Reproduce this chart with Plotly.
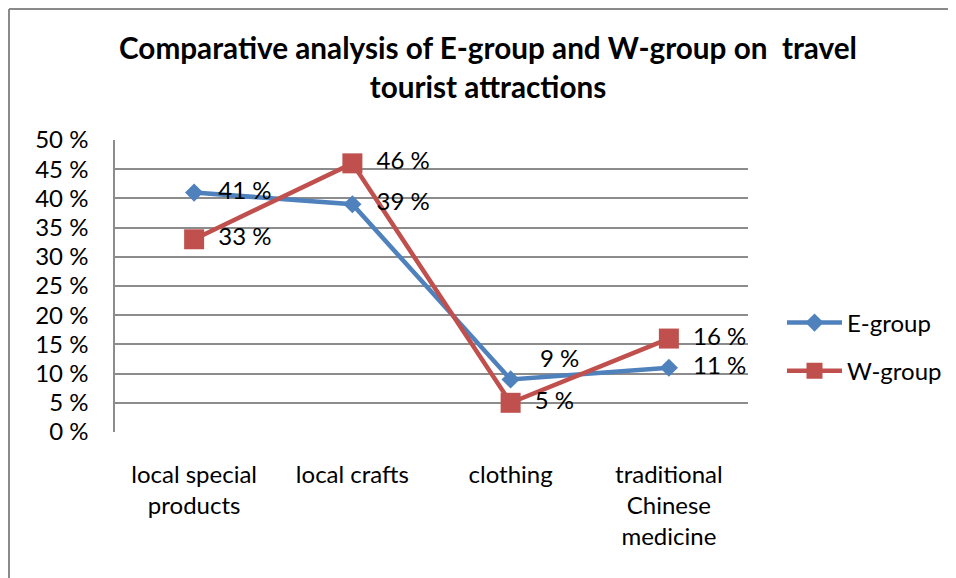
import plotly.graph_objects as go

categories = ["local special<br>products", "local crafts", "clothing", "traditional<br>Chinese<br>medicine"]
e_group = [41, 39, 9, 11]
w_group = [33, 46, 5, 16]
y_ticks = [0, 5, 10, 15, 20, 25, 30, 35, 40, 45, 50]
y_tick_labels = [f"{v} %" for v in y_ticks]

FONT = "Lato, Calibri, sans-serif"
BLUE = "#4F81BD"
RED = "#C0504D"
GRID = "#8C8C8C"

W, H = 956, 578
L, R, T, B = 107, 216, 132, 154
PW, PH = W - L - R, H - T - B

# E-group label that sits above-right of its point in the original
E_RAISED = 2

fig = go.Figure()
fig.add_trace(go.Scatter(
    x=categories, y=e_group, name="E-group", mode="lines+markers",
    line=dict(color=BLUE, width=4.5),
    marker=dict(symbol="diamond", size=14, color=BLUE),
    legendgroup="e",
))
fig.add_trace(go.Scatter(
    x=categories, y=w_group, name="W-group", mode="lines+markers",
    line=dict(color=RED, width=4.5),
    marker=dict(symbol="square", size=20, color=RED),
    legendgroup="w",
))
# data labels (transparent markers used only to offset the labels)
fig.add_trace(go.Scatter(
    x=categories, y=e_group, mode="markers+text", showlegend=False, hoverinfo="skip",
    marker=dict(size=37, color="rgba(0,0,0,0)"),
    text=["" if i == E_RAISED else f"{v} %" for i, v in enumerate(e_group)],
    textposition="middle right",
    textfont=dict(family=FONT, size=24, color="black"),
))
fig.add_trace(go.Scatter(
    x=categories, y=w_group, mode="markers+text", showlegend=False, hoverinfo="skip",
    marker=dict(size=37, color="rgba(0,0,0,0)"),
    text=[f"{v} %" for v in w_group],
    textposition="middle right",
    textfont=dict(family=FONT, size=24, color="black"),
))

fig.add_annotation(
    x=categories[E_RAISED], y=e_group[E_RAISED], xref="x", yref="y",
    text=f"{e_group[E_RAISED]} %", showarrow=False,
    xanchor="left", yanchor="middle", xshift=27, yshift=22,
    font=dict(family=FONT, size=24, color="black"),
)

fig.update_layout(
    width=W, height=H,
    margin=dict(l=L, r=R, t=T, b=B),
    paper_bgcolor="white", plot_bgcolor="white",
    font=dict(family=FONT, size=24, color="black"),
    title=dict(
        text="<b>Comparative analysis of E-group and W-group on  travel<br>tourist attractions</b>",
        x=480/W, xanchor="center", xref="container",
        y=1 - 51/H, yanchor="top", yref="container",
        font=dict(family=FONT, size=29.7, color="black"),
    ),
    legend=dict(
        x=(782 - 8 - L) / PW,
        xanchor="left", y=(424 - 339) / PH, yanchor="middle",
        font=dict(family=FONT, size=24, color="black"),
        tracegroupgap=14, bgcolor="rgba(0,0,0,0)", itemwidth=55,
    ),
    showlegend=True,
    shapes=[
        dict(type="line", xref="paper", yref="paper",
             x0=(1 - L) / PW, x1=(1 - L) / PW, y0=1 + (T - 1) / PH, y1=-(B + 10) / PH,
             line=dict(color="#8A8A8A", width=2)),
        dict(type="line", xref="paper", yref="paper",
             x0=(1 - L) / PW, x1=1 + (R + 10) / PW, y0=1 + (T - 1) / PH, y1=1 + (T - 1) / PH,
             line=dict(color="#8A8A8A", width=2)),
    ],
)
fig.update_xaxes(
    range=[-0.5, 3.5],
    showgrid=False, showline=False, zeroline=False, ticks="",
    tickfont=dict(family=FONT, size=24, color="black"),
    ticklabelstandoff=26,
)
fig.update_yaxes(
    range=[0, 50], tickvals=y_ticks, ticktext=y_tick_labels,
    showgrid=True, gridcolor=GRID, gridwidth=1.5,
    showline=True, linecolor=GRID, linewidth=1.5,
    zeroline=False, ticks="",
    tickfont=dict(family=FONT, size=24, color="black"),
    ticklabelstandoff=20,
)

fig.write_html("out.html")
